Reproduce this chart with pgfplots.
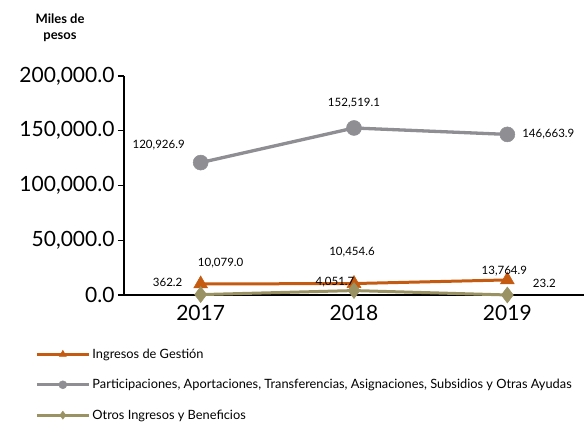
\documentclass[border=0pt]{standalone}
\usepackage{pgfplots}
\pgfplotsset{compat=1.18}
\usepackage{pgfplotstable}
\usepackage{fontspec}
\setmainfont{Lato}
\definecolor{corange}{HTML}{C55A11}
\definecolor{cgray}{HTML}{8E8E93}
\definecolor{colive}{HTML}{9A9262}
\pgfplotstableread{
x y dx dy lbl
0 10079.0 20 21 10,079.0
1 10454.6 -2 31 10,454.6
2 13764.9 -3 9 13,764.9
}\gestion
\pgfplotstableread{
x y dx dy lbl
0 120926.9 -42 17 120,926.9
1 152519.1 0 25 152,519.1
2 146663.9 41 0 146,663.9
}\particip
\pgfplotstableread{
x y dx dy lbl
0 362.2 -33 12 362.2
1 4051.7 -19 8 4,051.7
2 23.2 37 12 23.2
}\otros
\begin{document}
\begin{tikzpicture}[x=1pt,y=1pt]
\path[use as bounding box] (0,0) rectangle (584,425);
\node[font=\fontsize{13}{16}\selectfont\bfseries, align=center] at (60,397) {Miles de\\pesos};
\begin{axis}[
  at={(124pt,130pt)}, anchor=south west,
  scale only axis, width=460pt, height=219pt,
  xmin=-0.5, xmax=2.5, ymin=0, ymax=200000,
  axis x line*=bottom, axis y line*=left,
  axis line style={line width=1.2pt, -},
  xtick={0,1,2}, xticklabels={2017,2018,2019},
  major x tick style={draw=none},
  ytick={0,50000,100000,150000,200000},
  ytick align=outside, major tick length=6pt,
  major y tick style={line width=1.2pt, black},
  scaled y ticks=false,
  yticklabel={\pgfmathprintnumber[fixed,fixed zerofill,precision=1,1000 sep={,}]{\tick}},
  /pgf/number format/assume math mode=true,
  tick label style={font=\fontsize{21}{25}\selectfont},
  xticklabel style={yshift=-7pt},
  clip=false,
  nodes near coords={\pgfplotspointmeta},
  point meta=explicit symbolic,
  visualization depends on={\thisrow{dx} \as \dx},
  visualization depends on={\thisrow{dy} \as \dy},
  nodes near coords style={anchor=center, xshift=\dx pt, yshift=\dy pt, font=\fontsize{11.5}{13}\selectfont, text=black},
  legend style={at={(-0.1935,-0.236)}, anchor=north west, draw=none, fill=none, inner sep=0pt,
    font=\fontsize{12.8}{14}\selectfont, row sep=15.5pt, cells={anchor=west},
    /tikz/every even column/.append style={column sep=1pt}},
  legend image code/.code={\draw[#1, mark=none] (-26pt,0pt) -- (26pt,0pt); \draw[#1, mark size=4pt] plot coordinates {(0pt,0pt)};},
]
\addplot[corange, line width=3pt, mark=triangle*, mark size=8pt, mark options={line width=0.5pt}] table[x=x,y=y,meta=lbl] {\gestion};
\addlegendentry{Ingresos de Gestión}
\addplot[cgray, line width=3.3pt, mark=*, mark size=7.5pt, mark options={line width=0.5pt}] table[x=x,y=y,meta=lbl] {\particip};
\addlegendentry{Participaciones, Aportaciones, Transferencias, Asignaciones, Subsidios y Otras Ayudas}
\addplot[colive, line width=3pt, mark=diamond*, mark size=8pt, mark options={line width=0.5pt}] table[x=x,y=y,meta=lbl] {\otros};
\addlegendentry{Otros Ingresos y Beneficios}
\end{axis}
\end{tikzpicture}
\end{document}
